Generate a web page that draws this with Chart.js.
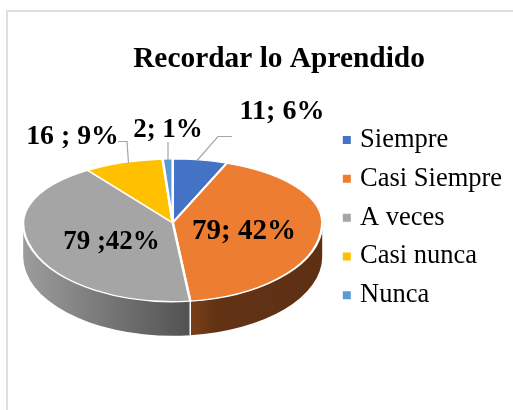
<!DOCTYPE html>
<html><head><meta charset="utf-8">
<style>
html,body{margin:0;padding:0;background:#fff;width:513px;height:410px;overflow:hidden}
#frame{position:absolute;left:6px;top:10px;width:600px;height:500px;border:2px solid #dfdfdf;box-sizing:border-box}
#c{position:absolute;left:0;top:0}
</style>
<script src="https://cdn.jsdelivr.net/npm/chart.js@4"></script>
</head><body>
<div id="frame"></div>
<canvas id="c" width="513" height="410"></canvas>
<script>
const titleText = 'Recordar lo Aprendido';
const categories = ['Siempre','Casi Siempre','A veces','Casi nunca','Nunca'];
const values = [11,79,79,16,2];
const valueLabels = ['11; 6%','79; 42%','79 ;42%','16 ; 9%','2; 1%'];
const colors = ['#4472C4','#ED7D31','#A5A5A5','#FFC000','#5B9BD5'];
const serif = '"Liberation Serif","Times New Roman",serif';

// Tilted-disc projection of the flat pie
const view = {cx:172.7, cy:222.7, rx:149.5, ryTop:63.7, ryBottom:79, depth:34};
const wallFill = [
  null,
  [[0,'#7a4018'],[0.2,'#623215'],[1,'#5e3013']],
  [[0,'#9c9c9c'],[1,'#525252']],
  null,
  null
];
const labelAnchors = [[282,112,28],[244,232,29],[111.5,242,27],[72.5,137,27.8],[168,130,27]];
const leaders = [
  [[232,136.5],[218,136.5],[197,160.5]],
  null,null,
  [[118,141.5],[127,141.5],[128.5,163]],
  [[168,142],[168,160]]
];

const tiltedPie = {
  id:'tiltedPie',
  afterLayout(chart){
    chart.titleBlock.left += 22;
    const lg = chart.legend;
    const w = lg.right - lg.left, h = lg.bottom - lg.top;
    lg.left = 334.5; lg.right = lg.left + w;
    lg.top = 114.5; lg.bottom = lg.top + h;
  },
  beforeDatasetDraw(chart,args){
    const ctx = chart.ctx, v = view, arcs = chart.getDatasetMeta(0).data;
    // side wall
    arcs.forEach((el,i)=>{
      const p = el.getProps(['startAngle','endAngle']);
      const s = Math.max(p.startAngle,0), e = Math.min(p.endAngle,Math.PI);
      if(e<=s || !wallFill[i]) return;
      const x0 = v.cx+v.rx*Math.cos(s), x1 = v.cx+v.rx*Math.cos(e);
      const g = ctx.createLinearGradient(x1,0,x0,0);
      wallFill[i].forEach(st=>g.addColorStop(st[0],st[1]));
      ctx.save();
      ctx.beginPath();
      ctx.ellipse(v.cx,v.cy,v.rx,v.ryBottom,0,s,e);
      ctx.ellipse(v.cx,v.cy+v.depth,v.rx,v.ryBottom,0,e,s,true);
      ctx.closePath();
      ctx.fillStyle = g; ctx.fill();
      ctx.strokeStyle = '#fff'; ctx.lineWidth = 1.5;
      ctx.beginPath();
      if(s>0){
        const xs = v.cx+v.rx*Math.cos(s), ys = v.cy+v.ryBottom*Math.sin(s);
        ctx.moveTo(xs,ys); ctx.lineTo(xs,ys+v.depth); ctx.stroke();
      }
      ctx.restore();
    });
    // top face: the library's own arc elements, seen through the tilt
    [[v.ryTop,-1],[v.ryBottom,1]].forEach(([ry,side])=>{
      ctx.save();
      ctx.beginPath();
      if(side<0) ctx.rect(0,0,chart.width,v.cy+0.5);
      else ctx.rect(0,v.cy,chart.width,chart.height);
      ctx.clip();
      arcs.forEach(el=>{
        ctx.save();
        ctx.translate(v.cx,v.cy);
        ctx.scale(v.rx/el.outerRadius, ry/el.outerRadius);
        ctx.translate(-el.x,-el.y);
        el.draw(ctx);
        ctx.restore();
      });
      ctx.restore();
    });
    return false;
  },
  afterDatasetsDraw(chart){
    const ctx = chart.ctx;
    ctx.save();
    ctx.strokeStyle='#a6a6a6'; ctx.lineWidth=1.2;
    leaders.forEach(pts=>{
      if(!pts) return;
      ctx.beginPath();
      pts.forEach((p,i)=> i?ctx.lineTo(p[0],p[1]):ctx.moveTo(p[0],p[1]));
      ctx.stroke();
    });
    ctx.fillStyle='#000'; ctx.textAlign='center'; ctx.textBaseline='middle';
    valueLabels.forEach((t,i)=>{
      const a = labelAnchors[i];
      ctx.font = 'bold '+a[2]+'px '+serif;
      ctx.fillText(t,a[0],a[1]);
    });
    ctx.restore();
  }
};

new Chart(document.getElementById('c'),{
  type:'pie',
  data:{labels:categories,datasets:[{data:values,backgroundColor:colors,borderColor:'#fff',borderWidth:2.6}]},
  options:{
    responsive:false,animation:false,
    layout:{padding:{left:23,top:0,right:0,bottom:0}},
    plugins:{
      tooltip:{enabled:false},
      title:{display:true,text:titleText,color:'#000',padding:{top:41.5,bottom:6},
             font:{family:serif,size:29.4,weight:'bold'}},
      legend:{position:'right',align:'start',
        labels:{color:'#000',font:{family:serif,size:26.5},padding:12.3,
          usePointStyle:true,pointStyle:'rect',boxWidth:0.01,boxHeight:8,
          generateLabels:c=>Chart.overrides.doughnut.plugins.legend.labels.generateLabels(c).map(l=>({...l,lineWidth:0}))}}
    }
  },
  plugins:[tiltedPie]
});
</script>
</body></html>
